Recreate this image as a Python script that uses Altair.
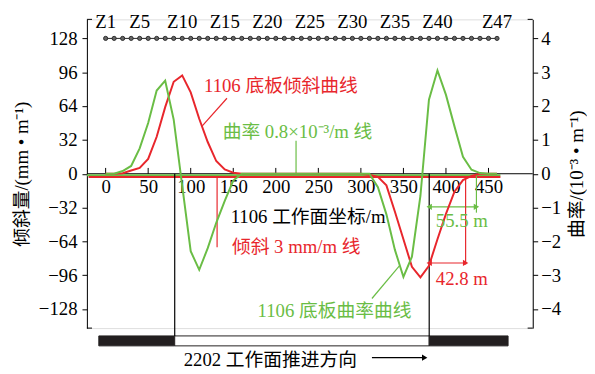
import altair as alt
import pandas as pd

# ---------------- data ----------------
dist = [0, 10, 20, 30, 40, 50, 60, 70, 80, 90,
        100, 110, 120, 130, 140, 150, 160, 170, 180, 190,
        200, 210, 220, 230, 240, 250, 260, 270, 280, 290,
        300, 310, 320, 330, 340, 350, 360, 370, 380, 390,
        400, 410, 420, 430, 440, 450, 460]
tilt = [0, 0, 0.5, 3, 5.5, 14, 35, 63, 87, 93,
        77, 52, 30, 12, 4, 1, 0, 0, 0, 0,
        0, 0, 0, 0, 0, 0, 0, 0, 0, 0,
        0, -1, -3, -11, -36, -62, -88, -98, -87, -62,
        -38, -17, -6, -2, 0, 0, 0]
curv = [0, 0, 0.08, 0.23, 0.75, 1.5, 2.46, 2.75, 1.6, -0.35,
        -2.29, -2.84, -2.2, -1.45, -0.8, -0.2, 0, 0, 0, 0,
        0, 0, 0, 0, 0, 0, 0, 0, 0, 0,
        0, 0, -0.4, -1.2, -2.25, -3.05, -2.45, -0.65, 2.19, 3.05,
        2.33, 1.4, 0.5, 0.12, 0.02, 0, 0]
z_names = ["Z1", "Z5", "Z10", "Z15", "Z20", "Z25", "Z30", "Z35", "Z40", "Z47"]
z_name_x = [0, 40, 90, 140, 190, 240, 290, 340, 390, 460]
z_level = 128
x_ticks = [0, 50, 100, 150, 200, 250, 300, 350, 400, 450]
yl_ticks = [-128, -96, -64, -32, 0, 32, 64, 96, 128]
yr_ticks = [-4, -3, -2, -1, 0, 1, 2, 3, 4]
tilt_limit = -3          # 倾斜 3 mm/m 线
curv_limit = 0           # 曲率线 (drawn at zero level)
goaf_start, goaf_end = 81.2, 380.3     # 2202 工作面
pillar_l = [-8, 81.2]
pillar_r = [380.3, 473]
d_green = 55.5
d_red = 42.8

RED = "#e8262c"
GREEN = "#6abd45"
FONT = "Liberation Serif, Noto Sans CJK SC"

X_DOM = [-22, 502]
YL_DOM = [-146, 146]
YR_DOM = [-146 / 32, 146 / 32]

xs = alt.Scale(domain=X_DOM, nice=False, zero=False)
ysl = alt.Scale(domain=YL_DOM, nice=False, zero=False)
ysr = alt.Scale(domain=YR_DOM, nice=False, zero=False)

x_axis = alt.Axis(orient="bottom", offset=-156.5, domain=False, ticks=False, tickSize=0,
                  values=x_ticks, labelFont=FONT, labelFontSize=19, labelColor="black",
                  labelPadding=4, grid=False, title=None)
yl_axis = alt.Axis(orient="left", values=yl_ticks, domain=True, domainColor="black", ticks=True,
                   tickSize=5, tickColor="black", labelFont=FONT, labelFontSize=19,
                   labelColor="black", labelPadding=5, grid=False, title="倾斜量/(mm • m⁻¹)",
                   titleFont=FONT, titleFontSize=19, titleFontWeight="normal",
                   titleColor="black", titlePadding=7)
yr_axis = alt.Axis(orient="right", values=yr_ticks, domain=True, domainColor="black", ticks=True,
                   tickSize=5, tickColor="black", labelFont=FONT, labelFontSize=19,
                   labelColor="black", labelPadding=3, grid=False,
                   title="曲率/(10⁻³ • m⁻¹)", titleFont=FONT, titleFontSize=19,
                   titleFontWeight="normal", titleColor="black", titlePadding=7,
                   titleAngle=270, titleBaseline="top")


def X(f, **kw):
    return alt.X(f, type="quantitative", scale=xs, axis=x_axis, **kw)


def YL(f, **kw):
    return alt.Y(f, type="quantitative", scale=ysl, axis=yl_axis, **kw)


# zero line
zero_df = pd.DataFrame({"x": [X_DOM[0]], "x2": [X_DOM[1]], "y": [0]})
zero_line = alt.Chart(zero_df).mark_rule(color="black", strokeWidth=1).encode(
    x=X("x"), x2="x2", y=YL("y"))

# x ticks pointing up
tick_df = pd.DataFrame({"x": x_ticks, "y": [0] * len(x_ticks), "y2": [5.5] * len(x_ticks)})
x_tick_marks = alt.Chart(tick_df).mark_rule(color="black", strokeWidth=1).encode(
    x=X("x"), y=YL("y"), y2="y2")

# end caps of the two vertical axes (pointing inward)
cap_df = pd.DataFrame({
    "x": [X_DOM[0], X_DOM[0], X_DOM[1], X_DOM[1]],
    "x2": [X_DOM[0] + 6, X_DOM[0] + 6, X_DOM[1] - 6, X_DOM[1] - 6],
    "y": [YL_DOM[1], YL_DOM[0], YL_DOM[1], YL_DOM[0]],
})
caps = alt.Chart(cap_df).mark_rule(color="black", strokeWidth=1).encode(
    x=X("x"), x2="x2", y=YL("y"))

# threshold lines
lim_df = pd.DataFrame({"x": [X_DOM[0]], "x2": [464], "y": [curv_limit]})
green_lim = alt.Chart(lim_df).mark_rule(color=GREEN, strokeWidth=2, yOffset=1.5).encode(
    x=X("x"), x2="x2", y=YL("y"))
rlim_df = pd.DataFrame({"x": [-20], "x2": [464], "y": [tilt_limit]})
red_lim = alt.Chart(rlim_df).mark_rule(color=RED, strokeWidth=2).encode(
    x=X("x"), x2="x2", y=YL("y"))

# tilt curve
tilt_df = pd.DataFrame({"x": dist, "y": tilt})
tilt_line = alt.Chart(tilt_df).mark_line(color=RED, strokeWidth=2).encode(
    x=X("x"), y=YL("y"))

# survey points
pts_df = pd.DataFrame({"x": dist, "y": [z_level] * len(dist)})
pts_line = alt.Chart(pts_df).mark_line(color="#222", strokeWidth=1).encode(x=X("x"), y=YL("y"))
pts = alt.Chart(pts_df).mark_point(filled=True, color="#666", size=18, stroke="#222",
                                   strokeWidth=0.9, opacity=1).encode(x=X("x"), y=YL("y"))
zl_df = pd.DataFrame({"x": z_name_x, "t": z_names, "y": [143.2] * len(z_names)})
z_labels = alt.Chart(zl_df).mark_text(font=FONT, fontSize=19, color="black",
                                      baseline="middle", align="center").encode(
    x=X("x"), y=YL("y"), text="t:N")

# annotation texts
ann_df = pd.DataFrame({
    "x": [206, 225.5, 238, 224, 269, 418.6, 418.6, 193.6],
    "y": [82.5, 39.6, -40.6, -69.5, -130, -45.2, -99.4, -176.5],
    "t": ["1106 底板倾斜曲线", "曲率 0.8×10⁻³/m 线", "1106 工作面坐标/m", "倾斜 3 mm/m 线",
          "1106 底板曲率曲线", f"{d_green} m", f"{d_red} m", "2202 工作面推进方向"],
    "c": [RED, GREEN, "black", RED, GREEN, GREEN, RED, "black"],
})
ann = alt.Chart(ann_df).mark_text(font=FONT, fontSize=19, baseline="middle", align="center").encode(
    x=X("x"), y=YL("y"), text="t:N", color=alt.Color("c:N", scale=None))

# leader / dimension lines
lead_df = pd.DataFrame({
    "x": [142.6, 223.8, 131, 313, goaf_end, goaf_end + d_green, goaf_end, goaf_end + d_red,
          goaf_start, goaf_end, 313],
    "y": [71.4, 31.2, tilt_limit, -118, -31.3, 0, -84.4, tilt_limit, 0, 0, -174],
    "x2": [113.6, 223.8, 131, 345.5, goaf_end + d_green, goaf_end + d_green, goaf_end + d_red,
           goaf_end + d_red, goaf_start, goaf_end, 375],
    "y2": [45.2, 0, -69.5, -87, -31.3, -36.8, -84.4, -85.8, -153.4, -153.4, -174],
    "c": [RED, GREEN, RED, GREEN, GREEN, GREEN, RED, RED, "black", "black", "black"],
})
leads = alt.Chart(lead_df).mark_rule(strokeWidth=1.2).encode(
    x=X("x"), y=YL("y"), x2="x2", y2="y2", color=alt.Color("c:N", scale=None))

# arrow heads
head_df = pd.DataFrame({
    "x": [goaf_end, goaf_end + d_green, goaf_end, goaf_end + d_red, 375],
    "y": [-31.3, -31.3, -84.4, -84.4, -174],
    "s": ["triangle-left", "triangle-right", "triangle-left", "triangle-right", "triangle-right"],
    "c": [GREEN, GREEN, RED, RED, "black"],
    "o": [3, -3, 3, -3, -3],
})
heads = alt.Chart(head_df).mark_point(filled=True, size=40, opacity=1).encode(
    x=X("x"), y=YL("y"), shape=alt.Shape("s:N", scale=None),
    color=alt.Color("c:N", scale=None), xOffset=alt.XOffset("o:Q", scale=None))

# 2202 working face bar
bar_df = pd.DataFrame({
    "x": [pillar_l[0], goaf_start, pillar_r[0]],
    "x2": [pillar_l[1], goaf_end, pillar_r[1]],
    "y": [-153.4] * 3, "y2": [-162.8] * 3,
    "f": ["#231f20", "white", "#231f20"],
})
bars = alt.Chart(bar_df).mark_rect(stroke="#231f20", strokeWidth=1).encode(
    x=X("x"), x2="x2", y=YL("y"), y2="y2", fill=alt.Fill("f:N", scale=None))

left = alt.layer(zero_line, bars, caps, x_tick_marks, green_lim, red_lim, leads, tilt_line,
                 pts_line, pts, z_labels, ann, heads)

# curvature curve (right axis)
curv_df = pd.DataFrame({"x": dist, "y": curv})
right = alt.Chart(curv_df).mark_line(color=GREEN, strokeWidth=2).encode(
    x=X("x"), y=alt.Y("y", type="quantitative", scale=ysr, axis=yr_axis))

chart = alt.layer(left, right).resolve_scale(y="independent").properties(
    width=452, height=313,
    autosize=alt.AutoSizeParams(type="none"),
    padding={"left": 80, "top": 9, "right": 55, "bottom": 44},
).configure_view(stroke=None).configure(background="white")

chart.save("out.html", embed_options={"renderer": "svg", "actions": False})
